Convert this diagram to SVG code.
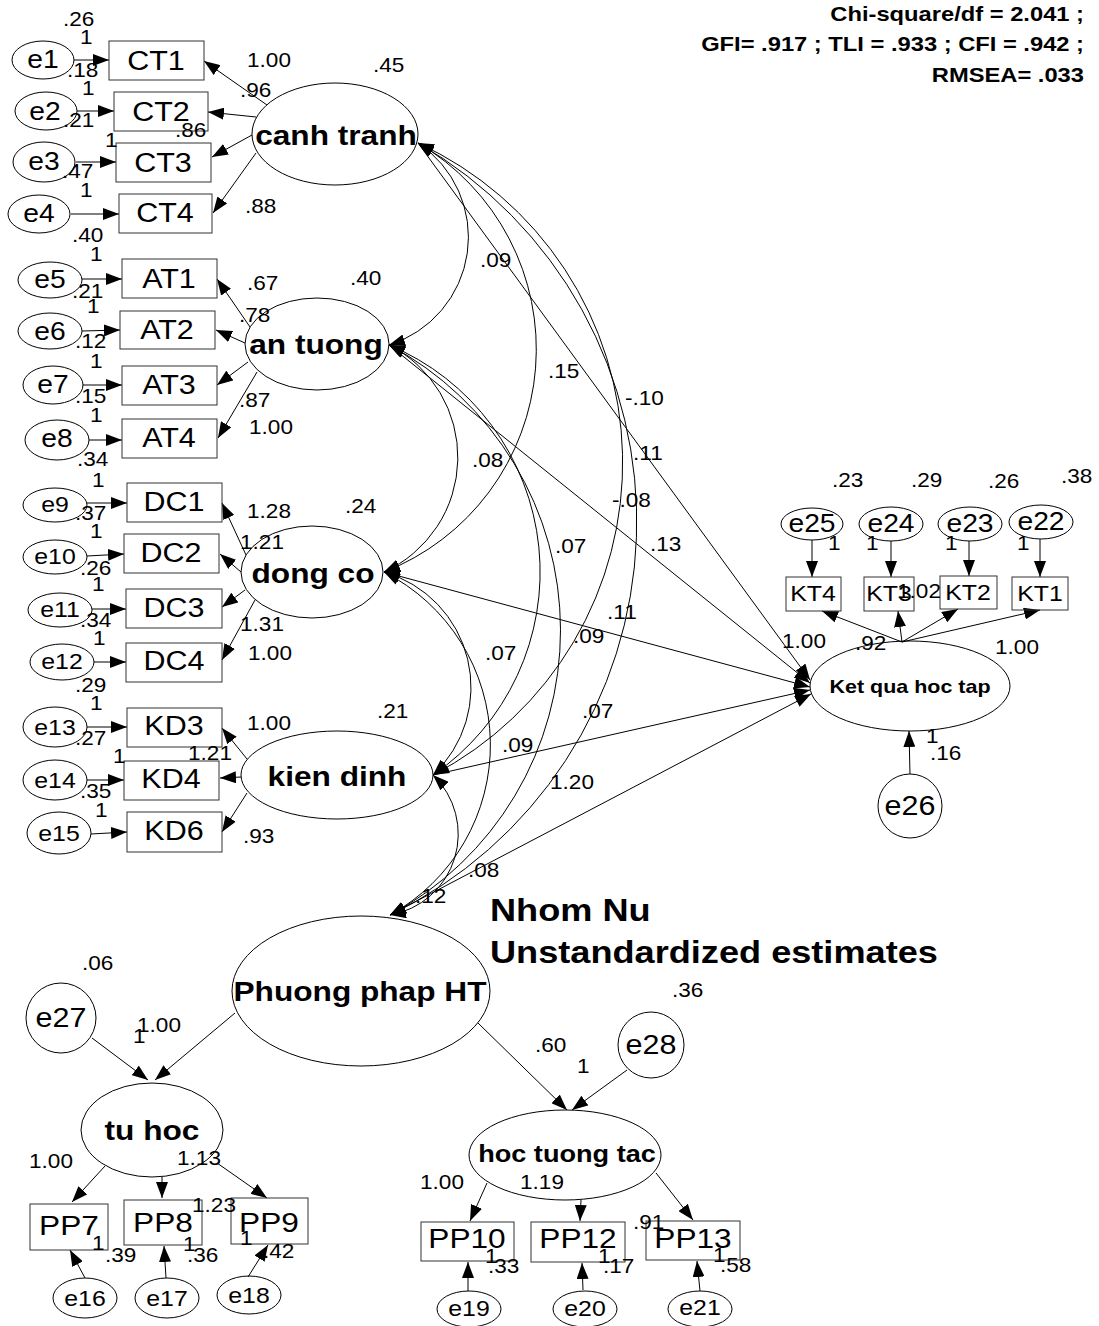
<svg xmlns="http://www.w3.org/2000/svg" width="1099" height="1326" viewBox="0 0 1099 1326">
<style>
text { font-family: "Liberation Sans", Arial, sans-serif; fill: #000; }
.n { font-size: 20px; }
.ob { font-size: 27px; text-anchor: middle; }
.pp { font-size: 28px; text-anchor: middle; }
.kt { font-size: 22px; text-anchor: middle; }
.eL { font-size: 25px; text-anchor: middle; }
.eS { font-size: 22px; text-anchor: middle; }
.eB { font-size: 27px; text-anchor: middle; }
.lat { font-size: 28px; font-weight: bold; text-anchor: middle; }
.fit { font-size: 21px; font-weight: bold; text-anchor: end; }
.ttl { font-size: 32px; font-weight: bold; }
ellipse, circle, rect { fill: none; stroke: #000; stroke-width: 1; }
rect { stroke: #333; }
rect.bg { fill: #fff; stroke: none; }
.a { fill: none; stroke: #000; stroke-width: 1; marker-end: url(#ah); }
.c { fill: none; stroke: #000; stroke-width: 1; marker-start: url(#ah); marker-end: url(#ah); }
</style>
<defs>
<marker id="ah" viewBox="0 0 16 12" refX="16" refY="6" markerWidth="16" markerHeight="12" markerUnits="userSpaceOnUse" orient="auto-start-reverse">
<path d="M0,0 L16,6 L0,12 z" fill="#000"/>
</marker>
</defs>
<rect class="bg" x="0" y="0" width="1099" height="1326"/>

<!-- paths, loadings and covariances -->
<g id="connectors">
<!-- error terms to indicators -->
<line class="a" x1="74" y1="60" x2="109" y2="60"/>
<line class="a" x1="77" y1="111" x2="114" y2="111"/>
<line class="a" x1="76" y1="162" x2="116" y2="162"/>
<line class="a" x1="71" y1="214" x2="119" y2="214"/>
<line class="a" x1="82" y1="279" x2="122" y2="279"/>
<line class="a" x1="82" y1="331" x2="120" y2="330"/>
<line class="a" x1="83" y1="385" x2="122" y2="385"/>
<line class="a" x1="89" y1="440" x2="122" y2="440"/>
<line class="a" x1="87" y1="503" x2="127" y2="503"/>
<line class="a" x1="87" y1="556" x2="124" y2="554"/>
<line class="a" x1="92" y1="609" x2="126" y2="609"/>
<line class="a" x1="94" y1="662" x2="126" y2="662"/>
<line class="a" x1="87" y1="727" x2="127" y2="727"/>
<line class="a" x1="87" y1="780" x2="124" y2="780"/>
<line class="a" x1="91" y1="834" x2="127" y2="832"/>
<!-- latent loadings -->
<line class="a" x1="267" y1="105" x2="204" y2="61"/>
<line class="a" x1="256" y1="117" x2="208" y2="112"/>
<line class="a" x1="252" y1="135" x2="212" y2="157"/>
<line class="a" x1="256" y1="153" x2="213" y2="213"/>
<line class="a" x1="250" y1="327" x2="217" y2="279"/>
<line class="a" x1="245" y1="343" x2="216" y2="330"/>
<line class="a" x1="248" y1="362" x2="217" y2="385"/>
<line class="a" x1="257" y1="372" x2="218" y2="438"/>
<line class="a" x1="246" y1="555" x2="222" y2="503"/>
<line class="a" x1="241" y1="572" x2="220" y2="554"/>
<line class="a" x1="245" y1="590" x2="222" y2="607"/>
<line class="a" x1="255" y1="600" x2="222" y2="660"/>
<line class="a" x1="247" y1="759" x2="222" y2="728"/>
<line class="a" x1="241" y1="777" x2="220" y2="778"/>
<line class="a" x1="247" y1="793" x2="222" y2="832"/>
<!-- Ket qua hoc tap indicators -->
<line class="a" x1="812" y1="540" x2="812" y2="577"/>
<line class="a" x1="891" y1="541" x2="891" y2="577"/>
<line class="a" x1="969" y1="541" x2="969" y2="576"/>
<line class="a" x1="1040" y1="539" x2="1040" y2="577"/>
<line class="a" x1="902" y1="642" x2="822" y2="611"/>
<line class="a" x1="902" y1="642" x2="898" y2="611"/>
<line class="a" x1="902" y1="642" x2="958" y2="609"/>
<line class="a" x1="902" y1="642" x2="1040" y2="610"/>
<line class="a" x1="910" y1="774" x2="909" y2="731"/>
<!-- structural paths to Ket qua hoc tap -->
<line class="a" x1="418" y1="143" x2="810" y2="680"/>
<line class="a" x1="389" y1="345" x2="810" y2="683"/>
<line class="a" x1="384" y1="572" x2="810" y2="687"/>
<line class="a" x1="433" y1="775" x2="810" y2="690"/>
<line class="a" x1="390" y1="915" x2="811" y2="694"/>
<!-- covariances -->
<path class="c" d="M418,143 A113,113 0 0 1 389,345"/>
<path class="c" d="M418,143 A239,239 0 0 1 384,572"/>
<path class="c" d="M418,143 A352,352 0 0 1 433,775"/>
<path class="c" d="M418,143 A437,437 0 0 1 390,915"/>
<path class="c" d="M389,345 A126,126 0 0 1 384,572"/>
<path class="c" d="M389,345 A246,246 0 0 1 433,775"/>
<path class="c" d="M389,345 A323,323 0 0 1 390,915"/>
<path class="c" d="M384,572 A120,120 0 0 1 433,775"/>
<path class="c" d="M384,572 A194,194 0 0 1 390,915"/>
<path class="c" d="M433,775 A82,82 0 0 1 390,915"/>
<!-- second-order factor -->
<line class="a" x1="235" y1="1013" x2="155" y2="1080"/>
<line class="a" x1="92" y1="1038" x2="148" y2="1080"/>
<line class="a" x1="478" y1="1023" x2="567" y2="1110"/>
<line class="a" x1="627" y1="1070" x2="572" y2="1110"/>
<line class="a" x1="105" y1="1166" x2="72" y2="1202"/>
<line class="a" x1="162" y1="1177" x2="162" y2="1198"/>
<line class="a" x1="217" y1="1163" x2="267" y2="1198"/>
<line class="a" x1="85" y1="1278" x2="70" y2="1250"/>
<line class="a" x1="166" y1="1278" x2="164" y2="1246"/>
<line class="a" x1="248" y1="1277" x2="268" y2="1245"/>
<line class="a" x1="487" y1="1183" x2="470" y2="1221"/>
<line class="a" x1="581" y1="1200" x2="580" y2="1221"/>
<line class="a" x1="656" y1="1173" x2="693" y2="1220"/>
<line class="a" x1="468" y1="1291" x2="468" y2="1262"/>
<line class="a" x1="583" y1="1290" x2="582" y2="1263"/>
<line class="a" x1="700" y1="1291" x2="697" y2="1261"/>
</g>

<!-- canh tranh block -->
<g id="canh_tranh"><ellipse cx="335" cy="134" rx="83" ry="51"/><text class="lat" transform="translate(336 145) scale(1.13 1)">canh tranh</text></g>
<g id="CT1"><rect x="109" y="41" width="95" height="39"/><text class="ob" transform="translate(156 70) scale(1.13 1)">CT1</text></g>
<g id="CT2"><rect x="114" y="92" width="94" height="39"/><text class="ob" transform="translate(161 121) scale(1.13 1)">CT2</text></g>
<g id="CT3"><rect x="116" y="143" width="95" height="39"/><text class="ob" transform="translate(163 172) scale(1.13 1)">CT3</text></g>
<g id="CT4"><rect x="119" y="194" width="93" height="39"/><text class="ob" transform="translate(165 222) scale(1.13 1)">CT4</text></g>
<g id="e1"><ellipse cx="43" cy="60" rx="31" ry="19"/><text class="eL" transform="translate(43 68) scale(1.13 1)">e1</text></g>
<g id="e2"><ellipse cx="46" cy="111" rx="31" ry="19"/><text class="eL" transform="translate(45 120) scale(1.13 1)">e2</text></g>
<g id="e3"><ellipse cx="44" cy="162" rx="31" ry="20"/><text class="eL" transform="translate(44 170) scale(1.13 1)">e3</text></g>
<g id="e4"><ellipse cx="39" cy="214" rx="31" ry="19"/><text class="eL" transform="translate(39 222) scale(1.13 1)">e4</text></g>

<!-- an tuong block -->
<g id="an_tuong"><ellipse cx="317" cy="344" rx="72" ry="46"/><text class="lat" transform="translate(316 354) scale(1.13 1)">an tuong</text></g>
<g id="AT1"><rect x="122" y="259" width="95" height="39"/><text class="ob" transform="translate(169 288) scale(1.13 1)">AT1</text></g>
<g id="AT2"><rect x="120" y="311" width="95" height="38"/><text class="ob" transform="translate(167 339) scale(1.13 1)">AT2</text></g>
<g id="AT3"><rect x="122" y="366" width="95" height="39"/><text class="ob" transform="translate(169 394) scale(1.13 1)">AT3</text></g>
<g id="AT4"><rect x="122" y="419" width="95" height="39"/><text class="ob" transform="translate(169 447) scale(1.13 1)">AT4</text></g>
<g id="e5"><ellipse cx="50" cy="280" rx="32" ry="18"/><text class="eL" transform="translate(50 288) scale(1.13 1)">e5</text></g>
<g id="e6"><ellipse cx="50" cy="331" rx="32" ry="18"/><text class="eL" transform="translate(50 340) scale(1.13 1)">e6</text></g>
<g id="e7"><ellipse cx="53" cy="385" rx="30" ry="19"/><text class="eL" transform="translate(53 393) scale(1.13 1)">e7</text></g>
<g id="e8"><ellipse cx="57" cy="440" rx="32" ry="20"/><text class="eL" transform="translate(57 447) scale(1.13 1)">e8</text></g>

<!-- dong co block -->
<g id="dong_co"><ellipse cx="312" cy="572" rx="71" ry="46"/><text class="lat" transform="translate(313 583) scale(1.13 1)">dong co</text></g>
<g id="DC1"><rect x="127" y="483" width="95" height="39"/><text class="ob" transform="translate(174 511) scale(1.13 1)">DC1</text></g>
<g id="DC2"><rect x="124" y="534" width="95" height="39"/><text class="ob" transform="translate(171 562) scale(1.13 1)">DC2</text></g>
<g id="DC3"><rect x="126" y="589" width="96" height="39"/><text class="ob" transform="translate(174 617) scale(1.13 1)">DC3</text></g>
<g id="DC4"><rect x="126" y="643" width="96" height="39"/><text class="ob" transform="translate(174 670) scale(1.13 1)">DC4</text></g>
<g id="e9"><ellipse cx="55" cy="505" rx="32" ry="17"/><text class="eS" transform="translate(55 512) scale(1.13 1)">e9</text></g>
<g id="e10"><ellipse cx="55" cy="557" rx="32" ry="17"/><text class="eS" transform="translate(55 564) scale(1.13 1)">e10</text></g>
<g id="e11"><ellipse cx="60" cy="610" rx="32" ry="17"/><text class="eS" transform="translate(60 617) scale(1.13 1)">e11</text></g>
<g id="e12"><ellipse cx="62" cy="662" rx="32" ry="18"/><text class="eS" transform="translate(62 669) scale(1.13 1)">e12</text></g>

<!-- kien dinh block -->
<g id="kien_dinh"><ellipse cx="337" cy="775" rx="96" ry="44"/><text class="lat" transform="translate(337 786) scale(1.13 1)">kien dinh</text></g>
<g id="KD3"><rect x="127" y="708" width="95" height="39"/><text class="ob" transform="translate(174 735) scale(1.13 1)">KD3</text></g>
<g id="KD4"><rect x="124" y="761" width="95" height="39"/><text class="ob" transform="translate(171 788) scale(1.13 1)">KD4</text></g>
<g id="KD6"><rect x="127" y="812" width="95" height="40"/><text class="ob" transform="translate(174 840) scale(1.13 1)">KD6</text></g>
<g id="e13"><ellipse cx="55" cy="727" rx="32" ry="20"/><text class="eS" transform="translate(55 735) scale(1.13 1)">e13</text></g>
<g id="e14"><ellipse cx="55" cy="780" rx="32" ry="20"/><text class="eS" transform="translate(55 788) scale(1.13 1)">e14</text></g>
<g id="e15"><ellipse cx="59" cy="833" rx="32" ry="21"/><text class="eS" transform="translate(59 841) scale(1.13 1)">e15</text></g>

<!-- Ket qua hoc tap block -->
<g id="ket_qua"><ellipse cx="910" cy="686" rx="100" ry="45"/><text class="lat" style="font-size:19px" transform="translate(910 693) scale(1.13 1)">Ket qua hoc tap</text></g>
<g id="KT4"><rect x="786" y="577" width="55" height="34"/><text class="kt" transform="translate(813 601) scale(1.13 1)">KT4</text></g>
<g id="KT3"><rect x="864" y="577" width="50" height="34"/><text class="kt" transform="translate(889 601) scale(1.13 1)">KT3</text></g>
<g id="KT2"><rect x="940" y="576" width="57" height="33"/><text class="kt" transform="translate(968 600) scale(1.13 1)">KT2</text></g>
<g id="KT1"><rect x="1012" y="577" width="56" height="33"/><text class="kt" transform="translate(1040 601) scale(1.13 1)">KT1</text></g>
<g id="e25"><ellipse cx="812" cy="524" rx="31" ry="16"/><text class="eS" style="font-size:25px" transform="translate(812 532) scale(1.13 1)">e25</text></g>
<g id="e24"><ellipse cx="891" cy="524" rx="32" ry="17"/><text class="eS" style="font-size:25px" transform="translate(891 532) scale(1.13 1)">e24</text></g>
<g id="e23"><ellipse cx="970" cy="524" rx="32" ry="17"/><text class="eS" style="font-size:25px" transform="translate(970 532) scale(1.13 1)">e23</text></g>
<g id="e22"><ellipse cx="1041" cy="522" rx="32" ry="17"/><text class="eS" style="font-size:25px" transform="translate(1041 530) scale(1.13 1)">e22</text></g>
<g id="e26"><circle cx="910" cy="806" r="32"/><text class="eB" transform="translate(910 815) scale(1.13 1)">e26</text></g>

<!-- Phuong phap HT block -->
<g id="phuong_phap"><ellipse cx="361" cy="991" rx="129" ry="75"/><text class="lat" transform="translate(360 1001) scale(1.13 1)">Phuong phap HT</text></g>
<g id="tu_hoc"><ellipse cx="152" cy="1130" rx="71" ry="47"/><text class="lat" transform="translate(152 1140) scale(1.13 1)">tu hoc</text></g>
<g id="hoc_tuong_tac"><ellipse cx="565" cy="1155" rx="96" ry="45"/><text class="lat" style="font-size:24px" transform="translate(567 1162) scale(1.13 1)">hoc tuong tac</text></g>
<g id="e27"><circle cx="61" cy="1018" r="35"/><text class="eB" transform="translate(61 1027) scale(1.13 1)">e27</text></g>
<g id="e28"><circle cx="651" cy="1045" r="33"/><text class="eB" transform="translate(651 1054) scale(1.13 1)">e28</text></g>
<g id="PP7"><rect x="30" y="1204" width="78" height="46"/><text class="pp" transform="translate(69 1235) scale(1.13 1)">PP7</text></g>
<g id="PP8"><rect x="124" y="1200" width="78" height="45"/><text class="pp" transform="translate(163 1232) scale(1.13 1)">PP8</text></g>
<g id="PP9"><rect x="231" y="1198" width="77" height="46"/><text class="pp" transform="translate(269 1232) scale(1.13 1)">PP9</text></g>
<g id="PP10"><rect x="421" y="1222" width="93" height="39"/><text class="pp" transform="translate(467 1248) scale(1.13 1)">PP10</text></g>
<g id="PP12"><rect x="531" y="1222" width="94" height="40"/><text class="pp" transform="translate(578 1248) scale(1.13 1)">PP12</text></g>
<g id="PP13"><rect x="646" y="1221" width="94" height="39"/><text class="pp" transform="translate(693 1248) scale(1.13 1)">PP13</text></g>
<g id="e16"><ellipse cx="85" cy="1298" rx="32" ry="20"/><text class="eS" transform="translate(85 1306) scale(1.13 1)">e16</text></g>
<g id="e17"><ellipse cx="167" cy="1298" rx="32" ry="20"/><text class="eS" transform="translate(167 1306) scale(1.13 1)">e17</text></g>
<g id="e18"><ellipse cx="249" cy="1295" rx="32" ry="19"/><text class="eS" transform="translate(249 1303) scale(1.13 1)">e18</text></g>
<g id="e19"><ellipse cx="469" cy="1309" rx="32" ry="18"/><text class="eS" transform="translate(469 1316) scale(1.13 1)">e19</text></g>
<g id="e20"><ellipse cx="585" cy="1309" rx="32" ry="18"/><text class="eS" transform="translate(585 1316) scale(1.13 1)">e20</text></g>
<g id="e21"><ellipse cx="700" cy="1309" rx="32" ry="18"/><text class="eS" transform="translate(700 1315) scale(1.13 1)">e21</text></g>

<!-- estimates -->
<g id="estimates" class="n">
<text class="n" transform="translate(63 26) scale(1.13 1)">.26</text>
<text class="n" transform="translate(80 44) scale(1.13 1)">1</text>
<text class="n" transform="translate(67 77) scale(1.13 1)">.18</text>
<text class="n" transform="translate(82 95) scale(1.13 1)">1</text>
<text class="n" transform="translate(63 127) scale(1.13 1)">.21</text>
<text class="n" transform="translate(105 147) scale(1.13 1)">1</text>
<text class="n" transform="translate(175 137) scale(1.13 1)">.86</text>
<text class="n" transform="translate(62 178) scale(1.13 1)">.47</text>
<text class="n" transform="translate(80 197) scale(1.13 1)">1</text>
<text class="n" transform="translate(72 242) scale(1.13 1)">.40</text>
<text class="n" transform="translate(247 67) scale(1.13 1)">1.00</text>
<text class="n" transform="translate(240 97) scale(1.13 1)">.96</text>
<text class="n" transform="translate(373 72) scale(1.13 1)">.45</text>
<text class="n" transform="translate(245 213) scale(1.13 1)">.88</text>
<text class="n" transform="translate(90 261) scale(1.13 1)">1</text>
<text class="n" transform="translate(72 298) scale(1.13 1)">.21</text>
<text class="n" transform="translate(87 313) scale(1.13 1)">1</text>
<text class="n" transform="translate(75 348) scale(1.13 1)">.12</text>
<text class="n" transform="translate(90 368) scale(1.13 1)">1</text>
<text class="n" transform="translate(75 403) scale(1.13 1)">.15</text>
<text class="n" transform="translate(90 422) scale(1.13 1)">1</text>
<text class="n" transform="translate(77 466) scale(1.13 1)">.34</text>
<text class="n" transform="translate(247 290) scale(1.13 1)">.67</text>
<text class="n" transform="translate(239 322) scale(1.13 1)">.78</text>
<text class="n" transform="translate(350 285) scale(1.13 1)">.40</text>
<text class="n" transform="translate(239 407) scale(1.13 1)">.87</text>
<text class="n" transform="translate(249 434) scale(1.13 1)">1.00</text>
<text class="n" transform="translate(92 487) scale(1.13 1)">1</text>
<text class="n" transform="translate(75 520) scale(1.13 1)">.37</text>
<text class="n" transform="translate(90 538) scale(1.13 1)">1</text>
<text class="n" transform="translate(80 575) scale(1.13 1)">.26</text>
<text class="n" transform="translate(92 591) scale(1.13 1)">1</text>
<text class="n" transform="translate(80 627) scale(1.13 1)">.34</text>
<text class="n" transform="translate(93 645) scale(1.13 1)">1</text>
<text class="n" transform="translate(75 692) scale(1.13 1)">.29</text>
<text class="n" transform="translate(247 518) scale(1.13 1)">1.28</text>
<text class="n" transform="translate(240 549) scale(1.13 1)">1.21</text>
<text class="n" transform="translate(345 513) scale(1.13 1)">.24</text>
<text class="n" transform="translate(240 631) scale(1.13 1)">1.31</text>
<text class="n" transform="translate(248 660) scale(1.13 1)">1.00</text>
<text class="n" transform="translate(90 710) scale(1.13 1)">1</text>
<text class="n" transform="translate(75 745) scale(1.13 1)">.27</text>
<text class="n" transform="translate(113 763) scale(1.13 1)">1</text>
<text class="n" transform="translate(188 760) scale(1.13 1)">1.21</text>
<text class="n" transform="translate(80 798) scale(1.13 1)">.35</text>
<text class="n" transform="translate(95 817) scale(1.13 1)">1</text>
<text class="n" transform="translate(247 730) scale(1.13 1)">1.00</text>
<text class="n" transform="translate(377 718) scale(1.13 1)">.21</text>
<text class="n" transform="translate(243 843) scale(1.13 1)">.93</text>
<!-- covariance and path values -->
<text class="n" transform="translate(480 267) scale(1.13 1)">.09</text>
<text class="n" transform="translate(548 378) scale(1.13 1)">.15</text>
<text class="n" transform="translate(625 405) scale(1.13 1)">-.10</text>
<text class="n" transform="translate(633 460) scale(1.13 1)">.11</text>
<text class="n" transform="translate(472 467) scale(1.13 1)">.08</text>
<text class="n" transform="translate(612 507) scale(1.13 1)">-.08</text>
<text class="n" transform="translate(555 553) scale(1.13 1)">.07</text>
<text class="n" transform="translate(650 551) scale(1.13 1)">.13</text>
<text class="n" transform="translate(607 619) scale(1.13 1)">.11</text>
<text class="n" transform="translate(573 643) scale(1.13 1)">.09</text>
<text class="n" transform="translate(485 660) scale(1.13 1)">.07</text>
<text class="n" transform="translate(582 718) scale(1.13 1)">.07</text>
<text class="n" transform="translate(502 752) scale(1.13 1)">.09</text>
<text class="n" transform="translate(550 789) scale(1.13 1)">1.20</text>
<text class="n" transform="translate(468 877) scale(1.13 1)">.08</text>
<text class="n" transform="translate(415 903) scale(1.13 1)">.12</text>
<!-- Ket qua hoc tap values -->
<text class="n" transform="translate(832 487) scale(1.13 1)">.23</text>
<text class="n" transform="translate(911 487) scale(1.13 1)">.29</text>
<text class="n" transform="translate(988 488) scale(1.13 1)">.26</text>
<text class="n" transform="translate(1061 483) scale(1.13 1)">.38</text>
<text class="n" transform="translate(828 550) scale(1.13 1)">1</text>
<text class="n" transform="translate(866 550) scale(1.13 1)">1</text>
<text class="n" transform="translate(945 550) scale(1.13 1)">1</text>
<text class="n" transform="translate(1017 550) scale(1.13 1)">1</text>
<text class="n" transform="translate(782 648) scale(1.13 1)">1.00</text>
<text class="n" transform="translate(855 650) scale(1.13 1)">.92</text>
<text class="n" transform="translate(897 598) scale(1.13 1)">1.02</text>
<text class="n" transform="translate(995 654) scale(1.13 1)">1.00</text>
<text class="n" transform="translate(926 743) scale(1.13 1)">1</text>
<text class="n" transform="translate(930 760) scale(1.13 1)">.16</text>
<!-- Phuong phap HT values -->
<text class="n" transform="translate(82 970) scale(1.13 1)">.06</text>
<text class="n" transform="translate(137 1032) scale(1.13 1)">1.00</text>
<text class="n" transform="translate(133 1043) scale(1.13 1)">1</text>
<text class="n" transform="translate(29 1168) scale(1.13 1)">1.00</text>
<text class="n" transform="translate(177 1165) scale(1.13 1)">1.13</text>
<text class="n" transform="translate(192 1212) scale(1.13 1)">1.23</text>
<text class="n" transform="translate(92 1250) scale(1.13 1)">1</text>
<text class="n" transform="translate(105 1262) scale(1.13 1)">.39</text>
<text class="n" transform="translate(183 1251) scale(1.13 1)">1</text>
<text class="n" transform="translate(187 1262) scale(1.13 1)">.36</text>
<text class="n" transform="translate(240 1245) scale(1.13 1)">1</text>
<text class="n" transform="translate(263 1258) scale(1.13 1)">.42</text>
<text class="n" transform="translate(672 997) scale(1.13 1)">.36</text>
<text class="n" transform="translate(535 1052) scale(1.13 1)">.60</text>
<text class="n" transform="translate(577 1073) scale(1.13 1)">1</text>
<text class="n" transform="translate(420 1189) scale(1.13 1)">1.00</text>
<text class="n" transform="translate(520 1189) scale(1.13 1)">1.19</text>
<text class="n" transform="translate(633 1229) scale(1.13 1)">.91</text>
<text class="n" transform="translate(485 1263) scale(1.13 1)">1</text>
<text class="n" transform="translate(488 1273) scale(1.13 1)">.33</text>
<text class="n" transform="translate(598 1263) scale(1.13 1)">1</text>
<text class="n" transform="translate(603 1273) scale(1.13 1)">.17</text>
<text class="n" transform="translate(713 1262) scale(1.13 1)">1</text>
<text class="n" transform="translate(720 1272) scale(1.13 1)">.58</text>
</g>

<!-- fit indices and title -->
<g id="fit_indices">
<text class="fit" transform="translate(1084 21) scale(1.13 1)">Chi-square/df = 2.041 ;</text>
<text class="fit" transform="translate(1084 51) scale(1.13 1)">GFI= .917 ; TLI = .933 ; CFI = .942 ;</text>
<text class="fit" transform="translate(1084 82) scale(1.13 1)">RMSEA= .033</text>
</g>
<g id="title">
<text class="ttl" transform="translate(490 921) scale(1.13 1)">Nhom Nu</text>
<text class="ttl" transform="translate(490 963) scale(1.13 1)">Unstandardized estimates</text>
</g>
</svg>
